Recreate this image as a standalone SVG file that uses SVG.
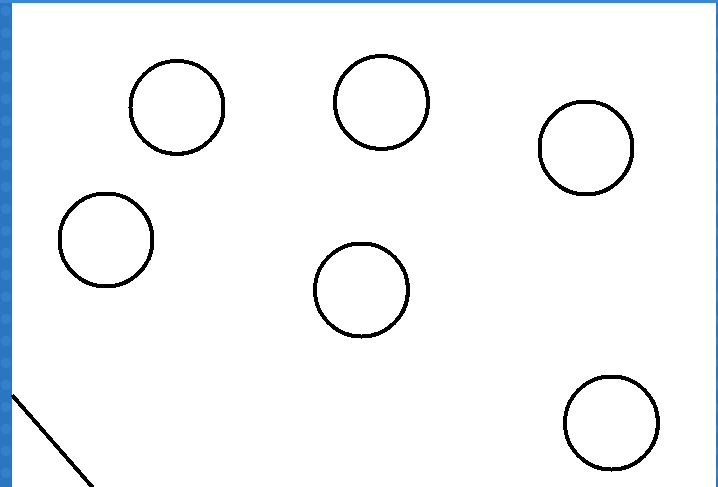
<svg xmlns="http://www.w3.org/2000/svg" width="718" height="487" viewBox="0 0 718 487">
  <style>
    .node circle { fill: none; stroke: #000; stroke-width: 4; shape-rendering: crispEdges; }
    .edge { stroke: #000; stroke-width: 4; fill: none; shape-rendering: crispEdges; }
  </style>
  <defs>
    <pattern id="dots" x="0" y="0" width="12" height="22" patternUnits="userSpaceOnUse">
      <rect width="12" height="22" fill="#2a76c0"/>
      <circle cx="6" cy="11" r="5" fill="#3f8ad6" opacity="0.5"/>
    </pattern>
  </defs>
  <rect x="0" y="0" width="718" height="487" fill="url(#dots)"/>
  <rect x="0" y="0" width="718" height="3" fill="#3a86d4"/>
  <rect x="12" y="3" width="704" height="484" fill="#ffffff"/>
  <g id="connectors">
    <line class="edge" x1="12" y1="395" x2="94" y2="489"/>
  </g>
  <g id="node1" class="node"><circle cx="177" cy="107.5" r="46.5"/></g>
  <g id="node2" class="node"><circle cx="381.5" cy="102.5" r="46.5"/></g>
  <g id="node3" class="node"><circle cx="586" cy="148" r="46.5"/></g>
  <g id="node4" class="node"><circle cx="106" cy="240" r="46.5"/></g>
  <g id="node5" class="node"><circle cx="361.5" cy="290" r="46.5"/></g>
  <g id="node6" class="node"><circle cx="611.5" cy="423" r="46.5"/></g>
</svg>
